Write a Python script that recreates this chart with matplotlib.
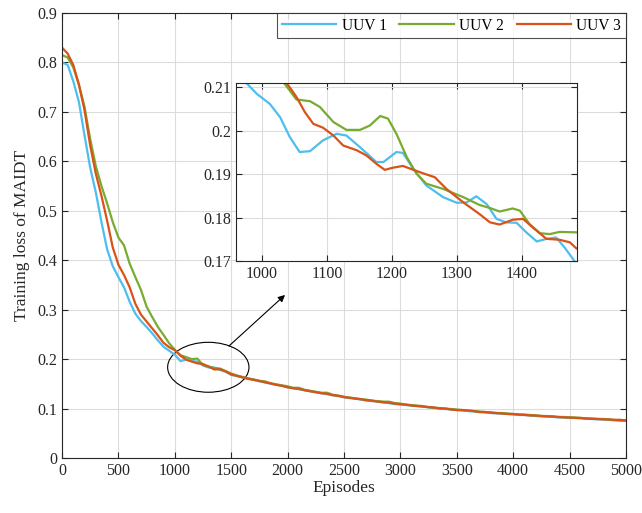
import numpy as np
import matplotlib
matplotlib.use("Agg")
import matplotlib.pyplot as plt
from matplotlib.patches import Ellipse

plt.rcParams['font.family'] = ['Liberation Serif', 'DejaVu Serif']
plt.rcParams['mathtext.fontset'] = 'stix'

labels = ["UUV 1", "UUV 2", "UUV 3"]
colors = ["#4DBEEE", "#77AC30", "#D95319"]

episodes = np.arange(0, 5001, 50)

uuv1 = [0.800, 0.795, 0.762, 0.720, 0.652, 0.587, 0.537, 0.477, 0.422, 0.388,
        0.366, 0.345, 0.316, 0.292, 0.277, 0.265, 0.252, 0.238, 0.225, 0.217,
        0.209, 0.196, 0.199, 0.196, 0.195, 0.187, 0.183, 0.183, 0.178, 0.175,
        0.168, 0.166, 0.163, 0.161, 0.158, 0.155, 0.153, 0.150, 0.148, 0.146,
        0.143, 0.141, 0.139, 0.137, 0.135, 0.133, 0.131, 0.129, 0.127, 0.125,
        0.123, 0.121, 0.120, 0.118, 0.116, 0.115, 0.114, 0.112, 0.111, 0.109,
        0.108, 0.107, 0.106, 0.105, 0.104, 0.102, 0.101, 0.100, 0.099, 0.098,
        0.097, 0.096, 0.095, 0.094, 0.093, 0.092, 0.091, 0.090, 0.090, 0.089,
        0.088, 0.087, 0.087, 0.086, 0.085, 0.084, 0.084, 0.083, 0.082, 0.082,
        0.081, 0.081, 0.080, 0.079, 0.079, 0.078, 0.078, 0.077, 0.076, 0.075,
        0.075]

uuv2 = [0.815, 0.810, 0.790, 0.755, 0.710, 0.645, 0.590, 0.550, 0.515, 0.477,
        0.446, 0.430, 0.393, 0.366, 0.340, 0.306, 0.285, 0.265, 0.249, 0.232,
        0.219, 0.208, 0.204, 0.200, 0.201, 0.188, 0.185, 0.182, 0.181, 0.176,
        0.171, 0.167, 0.164, 0.161, 0.159, 0.156, 0.155, 0.151, 0.149, 0.147,
        0.145, 0.142, 0.142, 0.138, 0.136, 0.134, 0.132, 0.132, 0.128, 0.126,
        0.124, 0.122, 0.121, 0.119, 0.118, 0.116, 0.115, 0.114, 0.114, 0.111,
        0.110, 0.108, 0.107, 0.106, 0.105, 0.103, 0.102, 0.101, 0.100, 0.099,
        0.098, 0.097, 0.096, 0.095, 0.094, 0.093, 0.092, 0.091, 0.091, 0.090,
        0.089, 0.088, 0.088, 0.087, 0.086, 0.085, 0.085, 0.084, 0.083, 0.083,
        0.082, 0.082, 0.081, 0.080, 0.080, 0.079, 0.079, 0.078, 0.077, 0.077,
        0.076]

uuv3 = [0.830, 0.818, 0.795, 0.755, 0.703, 0.632, 0.575, 0.530, 0.480, 0.426,
        0.391, 0.370, 0.345, 0.312, 0.290, 0.276, 0.262, 0.248, 0.233, 0.224,
        0.218, 0.207, 0.199, 0.195, 0.1915, 0.190, 0.185, 0.179, 0.1797, 0.175,
        0.169, 0.166, 0.163, 0.160, 0.158, 0.156, 0.153, 0.151, 0.148, 0.146,
        0.143, 0.141, 0.140, 0.137, 0.135, 0.133, 0.131, 0.130, 0.127, 0.126,
        0.123, 0.122, 0.120, 0.119, 0.117, 0.116, 0.114, 0.113, 0.112, 0.110,
        0.109, 0.108, 0.106, 0.105, 0.104, 0.103, 0.102, 0.100, 0.100, 0.098,
        0.097, 0.097, 0.096, 0.095, 0.093, 0.093, 0.092, 0.091, 0.090, 0.089,
        0.089, 0.088, 0.087, 0.086, 0.086, 0.085, 0.084, 0.084, 0.083, 0.082,
        0.082, 0.081, 0.081, 0.080, 0.079, 0.079, 0.078, 0.078, 0.077, 0.077,
        0.076]

# zoomed detail (inset)
ins_ep1 = [976, 992, 1012, 1028, 1043, 1058, 1074, 1094, 1115, 1130, 1151, 1176,
           1187, 1207, 1217, 1233, 1253, 1279, 1300, 1315, 1330, 1346, 1361,
           1376, 1392, 1407, 1423, 1438, 1453, 1466, 1481]
ins_v1 = [0.2110, 0.2085, 0.2062, 0.2031, 0.1985, 0.1951, 0.1953, 0.1978, 0.1993,
          0.1989, 0.1962, 0.1928, 0.1928, 0.1951, 0.1949, 0.1912, 0.1874, 0.1847,
          0.1834, 0.1835, 0.1849, 0.1831, 0.1797, 0.1789, 0.1788, 0.1766, 0.1745,
          0.1751, 0.1754, 0.1731, 0.1700]

ins_ep2 = [1034, 1053, 1074, 1089, 1110, 1130, 1151, 1166, 1182, 1194, 1207, 1223,
           1238, 1253, 1279, 1310, 1335, 1351, 1366, 1386, 1397, 1412, 1428, 1443,
           1458, 1484]
ins_v2 = [0.2110, 0.2072, 0.2068, 0.2055, 0.2020, 0.2002, 0.2002, 0.2012, 0.2034,
          0.2028, 0.1993, 0.1939, 0.1901, 0.1878, 0.1866, 0.1847, 0.1829, 0.1822,
          0.1814, 0.1821, 0.1816, 0.1785, 0.1764, 0.1762, 0.1767, 0.1766]

ins_ep3 = [1038, 1053, 1066, 1079, 1094, 1110, 1125, 1146, 1161, 1176, 1189, 1202,
           1217, 1233, 1248, 1266, 1284, 1310, 1335, 1351, 1366, 1386, 1402, 1417,
           1438, 1458, 1474, 1484]
ins_v3 = [0.2110, 0.2078, 0.2043, 0.2016, 0.2007, 0.1989, 0.1966, 0.1955, 0.1943,
          0.1924, 0.1910, 0.1915, 0.1919, 0.1910, 0.1902, 0.1893, 0.1866, 0.1835,
          0.1808, 0.1789, 0.1784, 0.1795, 0.1797, 0.1777, 0.1751, 0.1749, 0.1743,
          0.1729]

main_series = [uuv1, uuv2, uuv3]
inset_series = [(ins_ep1, ins_v1), (ins_ep2, ins_v2), (ins_ep3, ins_v3)]

TXT = "#262626"

fig = plt.figure(figsize=(6.42, 5.13), dpi=100)
ax = fig.add_axes([62/642, 1 - 458/513, (626-62)/642, (458-13)/513])

for s, lab, c in zip(main_series, labels, colors):
    ax.plot(episodes, s, color=c, lw=1.6, label=lab)

ax.set_xlim(0, 5000)
ax.set_ylim(0, 0.9)
ax.set_xticks(np.arange(0, 5001, 500))
ax.set_yticks(np.arange(0, 0.91, 0.1))
ax.set_yticklabels(["0", "0.1", "0.2", "0.3", "0.4", "0.5", "0.6", "0.7", "0.8", "0.9"])
ax.grid(True, color="#dcdcdc", lw=0.8)
ax.set_axisbelow(True)
ax.tick_params(direction="in", top=True, right=True, labelsize=11.5, length=4,
               width=0.8, colors=TXT, labelcolor=TXT)
for sp in ax.spines.values():
    sp.set_color(TXT)
    sp.set_linewidth(0.8)
ax.set_xlabel("Episodes", fontsize=12.5, color=TXT, labelpad=1)
ax.set_ylabel("Training loss of MAIDT", fontsize=12.5, color=TXT, labelpad=5)

leg = ax.legend(loc="upper right", bbox_to_anchor=(1.0, 1.0), borderaxespad=0,
                ncol=3, frameon=True, fancybox=False, fontsize=11.2,
                handlelength=3.5, handletextpad=0.35, columnspacing=0.8,
                borderpad=0.3)
leg.get_frame().set_edgecolor(TXT)
leg.get_frame().set_linewidth(0.8)

# ellipse + arrow
ell = Ellipse((1297, 0.1835), 721, 0.101, fill=False, edgecolor="black", lw=0.8)
ax.add_patch(ell)
ax.annotate("", xy=(1977, 0.3297), xytext=(1480, 0.2265),
            arrowprops=dict(arrowstyle="-|>", color="black", lw=0.8,
                            mutation_scale=10, shrinkA=0, shrinkB=0))

# inset
axi = fig.add_axes([236/642, 1 - 261/513, (577-236)/642, (261-83)/513])
for (ex, ev), c in zip(inset_series, colors):
    axi.plot(ex, ev, color=c, lw=1.6)
axi.set_xlim(960, 1485)
axi.set_ylim(0.17, 0.211)
axi.set_xticks([1000, 1100, 1200, 1300, 1400])
axi.set_yticks([0.17, 0.18, 0.19, 0.2, 0.21])
axi.set_yticklabels(["0.17", "0.18", "0.19", "0.2", "0.21"])
axi.grid(True, color="#dcdcdc", lw=0.8)
axi.set_axisbelow(True)
axi.tick_params(direction="in", top=True, right=True, labelsize=11.5, length=4,
                width=0.8, colors=TXT, labelcolor=TXT)
for sp in axi.spines.values():
    sp.set_color(TXT)
    sp.set_linewidth(0.8)

fig.savefig("out.png", dpi=100)
